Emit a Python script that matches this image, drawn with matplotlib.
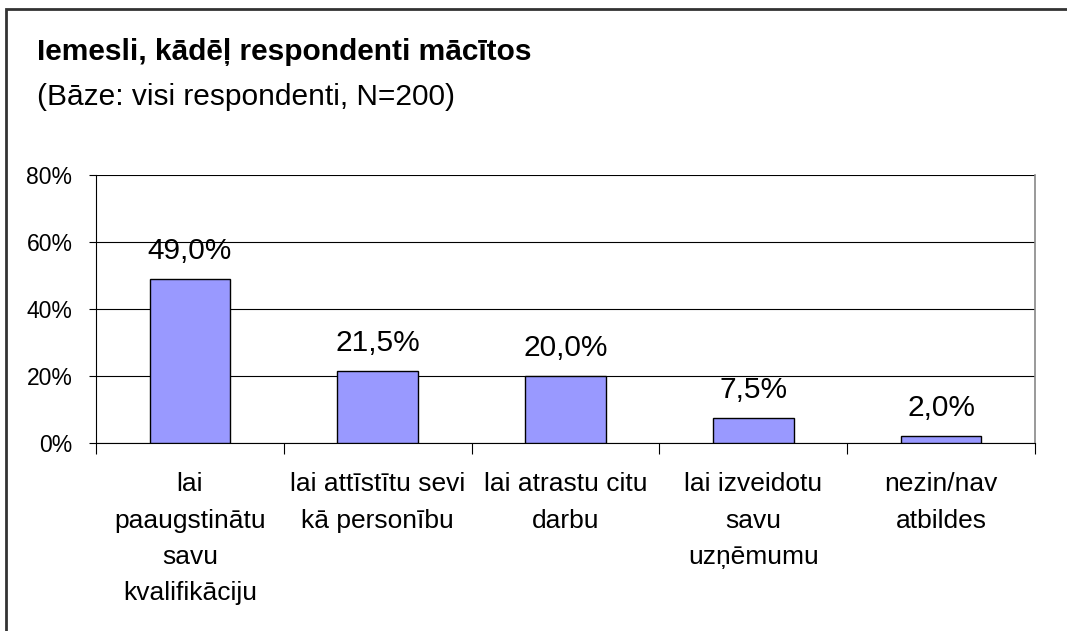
import matplotlib.pyplot as plt
from matplotlib.patches import Rectangle

plt.rcParams['font.family'] = ['Liberation Sans', 'DejaVu Sans']

categories = ['lai\npaaugstinātu\nsavu\nkvalifikāciju',
              'lai attīstītu sevi\nkā personību',
              'lai atrastu citu\ndarbu',
              'lai izveidotu\nsavu\nuzņēmumu',
              'nezin/nav\natbildes']
values = [49.0, 21.5, 20.0, 7.5, 2.0]
yticks = [0, 20, 40, 60, 80]

fig = plt.figure(figsize=(10.67, 6.31), dpi=100)

# outer frame (only left and top visible in the original)
fig.patches.append(Rectangle((6 / 1067, -0.1), 1.2, (1 - 9 / 631) + 0.1,
                             transform=fig.transFigure, fill=False,
                             edgecolor='#333333', linewidth=2))

fig.text(37 / 1067, 1 - 52 / 631, 'Iemesli, kādēļ respondenti mācītos',
         fontsize=21.5, fontweight='bold', va='center', ha='left')
fig.text(37 / 1067, 1 - 97 / 631, '(Bāze: visi respondenti, N=200)',
         fontsize=21.5, va='center', ha='left')

ax = fig.add_axes([96 / 1067, 1 - 443 / 631, (1035 - 96) / 1067, (443 - 175) / 631])

x = list(range(len(values)))
ax.bar(x, values, width=0.43, color='#9999FF', edgecolor='black', linewidth=1, zorder=3)

for xi, v in zip(x, values):
    ax.annotate(f'{v:.1f}%'.replace('.', ','), (xi, v), xytext=(0, 10),
                textcoords='offset points', ha='center', va='bottom', fontsize=21.5)

ax.set_xlim(-0.5, len(values) - 0.5)
ax.set_ylim(0, 80)
ax.set_yticks(yticks)
ax.set_yticklabels([f'{t}%' for t in yticks], fontsize=16.5)
ax.grid(axis='y', color='black', linewidth=0.8, zorder=0)

ax.set_xticks(x)
ax.set_xticklabels(categories, fontsize=19, linespacing=1.65)
ax.tick_params(axis='x', which='major', length=0, pad=21)
ax.set_xticks([i - 0.5 for i in range(len(values) + 1)], minor=True)
ax.tick_params(axis='x', which='minor', length=8, width=0.8, color='black', direction='out')
ax.tick_params(axis='y', length=5, width=0.8, direction='out', pad=12)

for side in ['left', 'bottom']:
    ax.spines[side].set_color('black')
    ax.spines[side].set_linewidth(0.8)
ax.spines['top'].set_visible(False)
ax.spines['right'].set_color('#888888')
ax.spines['right'].set_linewidth(1.2)

fig.savefig('out.png', dpi=100)
